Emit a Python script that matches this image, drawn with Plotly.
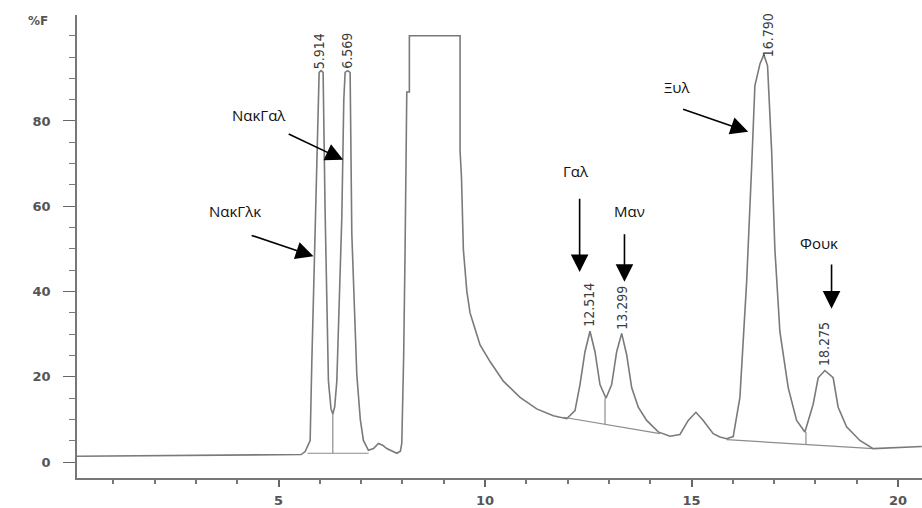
import plotly.graph_objects as go

# ---- chromatogram signal ----
time_min = [0.12, 2.5, 5.0, 5.55, 5.644, 5.765, 5.806, 5.886, 5.95, 5.983, 6.03, 6.079,
            6.127, 6.208, 6.27, 6.314, 6.36, 6.411, 6.532, 6.58, 6.612, 6.67, 6.733,
            6.774, 6.895, 6.98, 7.055, 7.176, 7.30, 7.418, 7.52, 7.621, 7.863, 7.95,
            7.984, 8.03, 8.064, 8.105, 8.168, 8.168, 9.395, 9.395, 9.43, 9.475, 9.56,
            9.637, 9.717, 9.879, 10.121, 10.443, 10.847, 11.251, 11.653, 11.977,
            12.178, 12.299, 12.420, 12.541, 12.662, 12.783, 12.928, 13.066, 13.187,
            13.308, 13.429, 13.550, 13.710, 13.913, 14.194, 14.477, 14.719, 14.920,
            15.106, 15.283, 15.525, 15.687, 15.849, 16.009, 16.171, 16.333, 16.454,
            16.534, 16.66, 16.75, 16.84, 16.939, 17.018, 17.139, 17.340, 17.544,
            17.745, 17.945, 18.066, 18.228, 18.429, 18.550, 18.754, 19.076, 19.397,
            20.0, 20.576]
signal = [1.4, 1.5, 1.7, 1.8, 2.5, 5.1, 23.6, 57.5, 85.0, 91.4, 91.8, 91.4,
          59.0, 19.0, 12.5, 11.3, 13.0, 19.0, 57.5, 85.0, 91.4, 91.8, 91.4,
          53.6, 20.5, 10.0, 5.1, 2.8, 3.2, 4.4, 4.0, 3.2, 2.1, 2.6,
          4.4, 25.0, 49.9, 86.8, 86.8, 100.0, 100.0, 73.0, 66.7, 49.9, 40.0,
          35.0, 32.5, 27.5, 23.6, 19.0, 15.2, 12.5, 10.9, 10.2,
          12.1, 18.2, 25.9, 30.7, 25.9, 18.2, 15.0, 18.2, 25.9,
          30.2, 25.2, 17.5, 12.9, 9.8, 7.1, 6.1, 6.5, 9.8,
          11.7, 9.8, 6.7, 5.9, 5.5, 6.0, 15.2, 42.1, 69.0,
          88.3, 93.5, 95.5, 93.0, 73.0, 49.9, 30.6, 17.5, 9.8,
          7.1, 13.6, 19.8, 21.5, 19.8, 12.9, 8.3, 5.1, 3.2,
          3.4, 3.7]

# integration baselines and drop lines (None separates segments)
base_t = [5.70, 7.18, None, 6.314, 6.314, None,
          11.895, 14.235, None, 12.905, 12.905, None,
          15.849, 19.397, None, 17.77, 17.77]
base_v = [2.1, 2.1, None, 2.1, 11.3, None,
          10.55, 6.7, None, 8.9, 15.0, None,
          5.3, 3.2, None, 4.2, 7.1]

# retention-time labels (text, centre position)
peak_text = ["5.914", "6.569", "12.514", "13.299", "16.790", "18.275"]
peak_lab_t = [5.983, 6.653, 12.517, 13.327, 16.837, 18.204]
peak_lab_v = [96.4, 96.4, 36.9, 36.3, 100.2, 27.7]

# compound names with arrows
names = ["ΝακΓαλ", "ΝακΓλκ", "Γαλ", "Μαν", "Ξυλ", "Φουκ"]
name_t = [4.519, 3.938, 12.202, 13.497, 14.639, 18.084]
name_v = [81.3, 59.0, 68.2, 59.0, 87.9, 51.4]
arrow_tip_t = [6.565, 5.845, 12.29, 13.376, 16.372, 18.390]
arrow_tip_v = [70.9, 48.3, 44.6, 42.3, 77.5, 36.0]
arrow_tail_t = [5.209, 4.313, 12.29, 13.376, 14.76, 18.390]
arrow_tail_v = [77.1, 53.3, 62.1, 53.8, 82.9, 46.7]

y_major = [0, 20, 40, 60, 80, 100]
y_major_text = ["0", "20", "40", "60", "80", ""]

tick_font = dict(family="DejaVu Sans", size=13, color="#555", weight="bold")

fig = go.Figure()
fig.add_trace(go.Scatter(x=base_t, y=base_v, mode="lines",
                         line=dict(color="#8c8c8c", width=1.2),
                         connectgaps=False, hoverinfo="skip"))
fig.add_trace(go.Scatter(x=time_min, y=signal, mode="lines",
                         line=dict(color="#7a7a7a", width=1.6)))

ann = []
for txt, t, v in zip(peak_text, peak_lab_t, peak_lab_v):
    ann.append(dict(x=t, y=v, text=txt, showarrow=False, textangle=-90,
                    xanchor="center", yanchor="middle",
                    font=dict(family="Liberation Sans Narrow, DejaVu Sans Condensed, sans-serif",
                              size=14, color="#3c3c3c")))
for txt, t, v in zip(names, name_t, name_v):
    ann.append(dict(x=t, y=v, text=txt, showarrow=False,
                    xanchor="center", yanchor="middle",
                    font=dict(family="Open Sans, Noto Sans, sans-serif", size=15, color="#111")))
for tt, tv, at, av in zip(arrow_tip_t, arrow_tip_v, arrow_tail_t, arrow_tail_v):
    ann.append(dict(x=tt, y=tv, ax=at, ay=av, axref="x", ayref="y", text="",
                    showarrow=True, arrowhead=2, arrowsize=2.2, arrowwidth=1.6,
                    arrowcolor="#000"))
ann.append(dict(x=-0.0456, y=0.987, xref="paper", yref="paper", text="%F",
                showarrow=False, xanchor="center", yanchor="middle",
                font=dict(family="DejaVu Sans", size=12, color="#555", weight="bold")))

fig.update_layout(
    width=922, height=508,
    margin=dict(l=77, r=0, t=15, b=23),
    paper_bgcolor="white", plot_bgcolor="white",
    showlegend=False,
    annotations=ann,
    xaxis=dict(range=[0.12, 20.58], showgrid=False, zeroline=False,
               showline=True, linecolor="#777", linewidth=1.5,
               ticks="outside", tick0=0, dtick=5, ticklen=7, tickwidth=1.5, tickcolor="#666",
               minor=dict(ticks="outside", dtick=1, ticklen=4, tickwidth=1.5, tickcolor="#777"),
               ticklabelstandoff=3,
               tickfont=tick_font),
    yaxis=dict(range=[-3.7, 104.85], showgrid=False, zeroline=False,
               showline=True, linecolor="#777", linewidth=1.8,
               ticks="outside", tickmode="array", tickvals=y_major, ticktext=y_major_text,
               ticklen=12, tickwidth=1.4, tickcolor="#666",
               minor=dict(ticks="outside", tickvals=list(range(0, 105, 5)), ticklen=6,
                          tickwidth=1.4, tickcolor="#777"),
               ticklabelstandoff=10,
               tickfont=tick_font),
)

fig.write_html("out.html")
